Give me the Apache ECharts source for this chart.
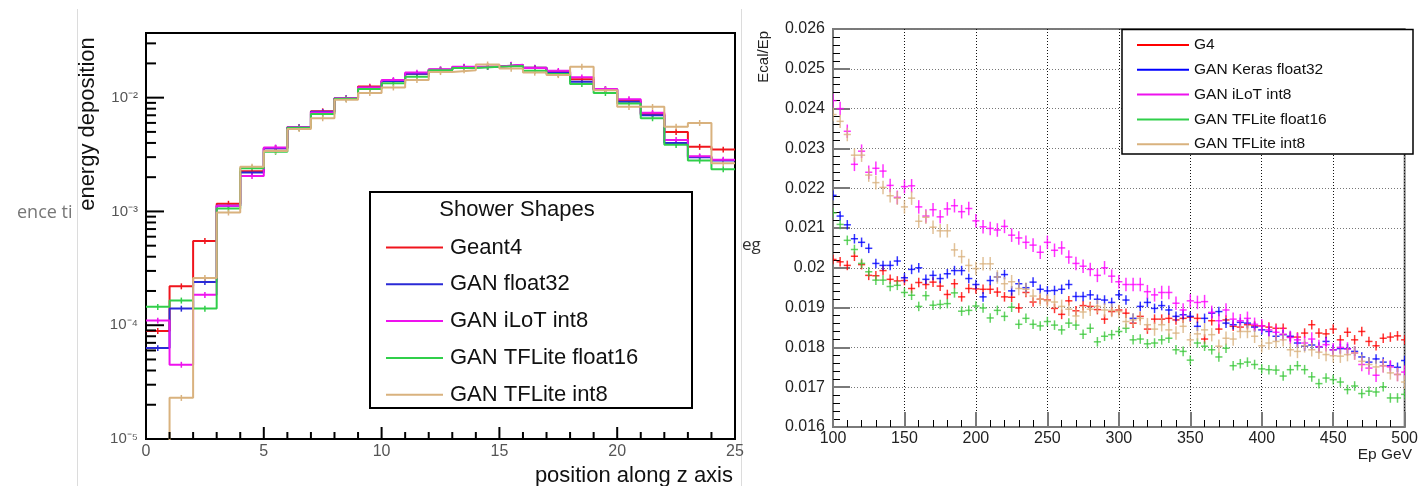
<!DOCTYPE html>
<html>
<head>
<meta charset="utf-8">
<script src="https://cdn.jsdelivr.net/npm/echarts@6/dist/echarts.min.js"></script>
<style>
  html, body { margin: 0; padding: 0; background: #fff; }
  #c { width: 1421px; height: 486px; }
</style>
</head>
<body>
<div id="c"></div>
<script>
// ---------- Shower shapes: energy deposition per z bin ----------
const zEdges = [0, 1, 2, 3, 4, 5, 6, 7, 8, 9, 10, 11, 12, 13, 14, 15, 16, 17, 18, 19, 20, 21, 22, 23, 24, 25];

const depGeant4 = [8.9e-5, 2.2e-4, 5.5e-4, 1.17e-3, 2.25e-3, 3.6e-3, 5.5e-3, 7.6e-3, 9.9e-3, 1.25e-2,
  1.40e-2, 1.62e-2, 1.76e-2, 1.85e-2, 1.88e-2, 1.93e-2, 1.83e-2, 1.68e-2, 1.45e-2, 1.18e-2,
  9.4e-3, 7.2e-3, 5.0e-3, 3.7e-3, 3.5e-3];
const depGanF32 = [6.3e-5, 1.4e-4, 2.4e-4, 1.12e-3, 2.2e-3, 3.6e-3, 5.5e-3, 7.5e-3, 9.9e-3, 1.22e-2,
  1.40e-2, 1.62e-2, 1.76e-2, 1.85e-2, 1.87e-2, 1.94e-2, 1.83e-2, 1.66e-2, 1.38e-2, 1.18e-2,
  9.2e-3, 7.0e-3, 4.0e-3, 3.0e-3, 2.8e-3];
const depGanILoT = [1.1e-4, 4.5e-5, 1.85e-4, 1.12e-3, 2.05e-3, 3.65e-3, 5.5e-3, 7.4e-3, 9.9e-3, 1.23e-2,
  1.43e-2, 1.66e-2, 1.78e-2, 1.87e-2, 1.88e-2, 1.95e-2, 1.82e-2, 1.72e-2, 1.51e-2, 1.19e-2,
  9.7e-3, 7.35e-3, 4.25e-3, 3.05e-3, 2.85e-3];
const depGanTF16 = [1.45e-4, 1.65e-4, 1.4e-4, 1.06e-3, 2.4e-3, 3.35e-3, 5.45e-3, 7.2e-3, 9.8e-3, 1.19e-2,
  1.34e-2, 1.53e-2, 1.74e-2, 1.82e-2, 1.87e-2, 1.90e-2, 1.72e-2, 1.61e-2, 1.32e-2, 1.10e-2,
  8.9e-3, 6.6e-3, 3.85e-3, 2.8e-3, 2.35e-3];
const depGanTF8 = [9e-6, 2.3e-5, 2.6e-4, 9.8e-4, 2.47e-3, 3.4e-3, 5.3e-3, 6.6e-3, 9.6e-3, 1.10e-2,
  1.23e-2, 1.43e-2, 1.68e-2, 1.74e-2, 1.96e-2, 1.80e-2, 1.66e-2, 1.58e-2, 1.87e-2, 1.16e-2,
  8.3e-3, 8.3e-3, 5.55e-3, 6.0e-3, 2.65e-3];

// ---------- Ecal/Ep versus primary energy ----------
const epGeV = [100, 105, 110, 115, 120, 125, 130, 135, 140, 145, 150, 155, 160, 165, 170, 175, 180, 185, 190, 195,
  200, 205, 210, 215, 220, 225, 230, 235, 240, 245, 250, 255, 260, 265, 270, 275, 280, 285, 290, 295,
  300, 305, 310, 315, 320, 325, 330, 335, 340, 345, 350, 355, 360, 365, 370, 375, 380, 385, 390, 395,
  400, 405, 410, 415, 420, 425, 430, 435, 440, 445, 450, 455, 460, 465, 470, 475, 480, 485, 490, 495, 500];

const ratioG4 = [
  0.02021, 0.02015, 0.02006, 0.02029, 0.02008, 0.01981, 0.01980, 0.01993, 0.01971, 0.01967,
  0.01968, 0.01948, 0.01963, 0.01958, 0.01964, 0.01954, 0.01933, 0.01960, 0.01927, 0.01948,
  0.01947, 0.01946, 0.01946, 0.01939, 0.01927, 0.01926, 0.01899, 0.01938, 0.01914, 0.01921,
  0.01919, 0.01898, 0.01883, 0.01917, 0.01892, 0.01905, 0.01903, 0.01895, 0.01871, 0.01890,
  0.01894, 0.01886, 0.01861, 0.01878, 0.01846, 0.01871, 0.01871, 0.01873, 0.01869, 0.01873,
  0.01876, 0.01873, 0.01821, 0.01867, 0.01846, 0.01869, 0.01853, 0.01851, 0.01857, 0.01854,
  0.01854, 0.01851, 0.01848, 0.01848, 0.01826, 0.01826, 0.01836, 0.01857, 0.01836, 0.01834,
  0.01846, 0.01819, 0.01838, 0.01819, 0.01840, 0.01815, 0.01804, 0.01823, 0.01826, 0.01829,
  0.01819];
const ratioKeras = [
  0.02182, 0.02130, 0.02108, 0.02073, 0.02064, 0.02049, 0.02011, 0.02006, 0.02006, 0.02017,
  0.01975, 0.01996, 0.02000, 0.01971, 0.01981, 0.01973, 0.01985, 0.01993, 0.01993, 0.01973,
  0.01958, 0.01927, 0.01968, 0.01977, 0.01983, 0.01942, 0.01960, 0.01950, 0.01964, 0.01946,
  0.01942, 0.01943, 0.01946, 0.01958, 0.01928, 0.01928, 0.01932, 0.01921, 0.01919, 0.01913,
  0.01932, 0.01919, 0.01873, 0.01903, 0.01913, 0.01898, 0.01905, 0.01894, 0.01878, 0.01882,
  0.01878, 0.01853, 0.01873, 0.01886, 0.01890, 0.01861, 0.01857, 0.01863, 0.01861, 0.01851,
  0.01844, 0.01840, 0.01828, 0.01832, 0.01828, 0.01811, 0.01803, 0.01806, 0.01801, 0.01815,
  0.01794, 0.01797, 0.01797, 0.01790, 0.01776, 0.01763, 0.01771, 0.01763, 0.01754, 0.01750,
  0.01767];
const ratioILoT = [
  0.02420, 0.02400, 0.02343, 0.02260, 0.02293, 0.02240, 0.02250, 0.02243, 0.02207, 0.02177,
  0.02204, 0.02206, 0.02153, 0.02130, 0.02146, 0.02128, 0.02148, 0.02156, 0.02141, 0.02149,
  0.02118, 0.02103, 0.02099, 0.02095, 0.02104, 0.02082, 0.02075, 0.02064, 0.02057, 0.02039,
  0.02064, 0.02044, 0.02050, 0.02027, 0.02011, 0.02004, 0.01996, 0.01981, 0.02000, 0.01979,
  0.01965, 0.01958, 0.01958, 0.01958, 0.01940, 0.01932, 0.01938, 0.01938, 0.01911, 0.01894,
  0.01917, 0.01913, 0.01915, 0.01888, 0.01867, 0.01894, 0.01871, 0.01867, 0.01873, 0.01858,
  0.01854, 0.01844, 0.01838, 0.01833, 0.01825, 0.01819, 0.01811, 0.01821, 0.01802, 0.01807,
  0.01794, 0.01800, 0.01796, 0.01786, 0.01757, 0.01748, 0.01730, 0.01754, 0.01751, 0.01732,
  0.01738];
const ratioTF16 = [
  0.02138, 0.02109, 0.02069, 0.02046, 0.02011, 0.01990, 0.01969, 0.01969, 0.01953, 0.01956,
  0.01938, 0.01931, 0.01903, 0.01930, 0.01906, 0.01908, 0.01910, 0.01937, 0.01891, 0.01893,
  0.01904, 0.01899, 0.01874, 0.01893, 0.01878, 0.01901, 0.01858, 0.01873, 0.01858, 0.01854,
  0.01865, 0.01856, 0.01844, 0.01861, 0.01856, 0.01833, 0.01848, 0.01814, 0.01828, 0.01832,
  0.01840, 0.01848, 0.01819, 0.01821, 0.01809, 0.01811, 0.01819, 0.01823, 0.01794, 0.01790,
  0.01768, 0.01811, 0.01803, 0.01794, 0.01776, 0.01798, 0.01754, 0.01759, 0.01763, 0.01757,
  0.01746, 0.01744, 0.01743, 0.01728, 0.01744, 0.01754, 0.01744, 0.01726, 0.01709, 0.01723,
  0.01719, 0.01713, 0.01694, 0.01703, 0.01684, 0.01690, 0.01688, 0.01701, 0.01673, 0.01673,
  0.01682];
const ratioTF8 = [
  0.02385, 0.02368, 0.02335, 0.02283, 0.02283, 0.02233, 0.02214, 0.02202, 0.02181, 0.02175,
  0.02153, 0.02175, 0.02117, 0.02127, 0.02102, 0.02093, 0.02093, 0.02045, 0.02028, 0.02006,
  0.01998, 0.02010, 0.02010, 0.01977, 0.01960, 0.01965, 0.01948, 0.01946, 0.01929, 0.01921,
  0.01917, 0.01914, 0.01903, 0.01896, 0.01879, 0.01889, 0.01896, 0.01903, 0.01894, 0.01893,
  0.01890, 0.01865, 0.01869, 0.01873, 0.01857, 0.01846, 0.01857, 0.01844, 0.01836, 0.01853,
  0.01819, 0.01834, 0.01844, 0.01832, 0.01803, 0.01823, 0.01821, 0.01840, 0.01840, 0.01828,
  0.01804, 0.01811, 0.01815, 0.01819, 0.01794, 0.01790, 0.01804, 0.01794, 0.01788, 0.01782,
  0.01779, 0.01778, 0.01782, 0.01786, 0.01765, 0.01757, 0.01751, 0.01754, 0.01736, 0.01732,
  0.01713];

// y-axis tick labels of the response plot
const ratioTicks = ['0.016', '0.017', '0.018', '0.019', '0.02', '0.021', '0.022', '0.023', '0.024', '0.025', '0.026'];
// decades and sub-decade multiples of the logarithmic deposition axis
const depDecades = [1e-5, 1e-4, 1e-3, 1e-2];
const depMultiples = [2, 3, 4, 5, 6, 7, 8, 9];
const DEP_MAX = 0.037;

// ---------- styling ----------
const FONT = '"Liberation Sans", Arial, Helvetica, sans-serif';

const showerSets = [
  { name: 'Geant4', values: depGeant4, color: '#f0141c' },
  { name: 'GAN float32', values: depGanF32, color: '#2a2ad6' },
  { name: 'GAN iLoT int8', values: depGanILoT, color: '#ee12ee' },
  { name: 'GAN TFLite float16', values: depGanTF16, color: '#30cf4a' },
  { name: 'GAN TFLite int8', values: depGanTF8, color: '#d9b27e' }
];
const ratioSets = [
  { name: 'G4', values: ratioG4, color: '#ff0000', err: 0.00012 },
  { name: 'GAN Keras float32', values: ratioKeras, color: '#0000ff', err: 0.00012 },
  { name: 'GAN iLoT int8', values: ratioILoT, color: '#ff00ff', err: 0.00017 },
  { name: 'GAN TFLite float16', values: ratioTF16, color: '#3cc83c', err: 0.00012 },
  { name: 'GAN TFLite int8', values: ratioTF8, color: '#d9b27e', err: 0.00017 }
];

const SUP = { '-': '\u207B', '0': '\u2070', '1': '\u00B9', '2': '\u00B2', '3': '\u00B3', '4': '\u2074',
  '5': '\u2075', '6': '\u2076', '7': '\u2077', '8': '\u2078', '9': '\u2079' };
function decadeLabel(v) {
  const p = Math.log10(v);
  const n = Math.round(p);
  if (Math.abs(p - n) > 1e-6) return '';
  return '10' + String(n).split('').map(c => SUP[c]).join('');
}

const series = [];

// step histograms
showerSets.forEach(s => {
  const pts = s.values.map((v, i) => [zEdges[i], v]);
  pts.push([zEdges[zEdges.length - 1], s.values[s.values.length - 1]]);
  series.push({
    type: 'line', name: s.name, xAxisIndex: 0, yAxisIndex: 0,
    step: 'end', symbol: 'none', showSymbol: false, clip: true,
    data: pts,
    lineStyle: { color: s.color, width: 2 },
    itemStyle: { color: s.color },
    emphasis: { disabled: true }, z: 2
  });
  // small statistical error marks at bin centres
  series.push({
    type: 'custom', name: s.name, xAxisIndex: 0, yAxisIndex: 0, clip: true,
    data: s.values.map((v, i) => [zEdges[i] + 0.5, v]),
    encode: { x: 0, y: 1 },
    itemStyle: { color: s.color },
    renderItem: (params, api) => {
      const x = api.value(0), v = api.value(1);
      const a = api.coord([x, v * 0.94]), b = api.coord([x, v * 1.06]);
      return { type: 'line', shape: { x1: a[0], y1: a[1], x2: b[0], y2: b[1] },
        style: { stroke: api.visual('color'), lineWidth: 1.5 } };
    },
    silent: true, z: 2
  });
});

// tick marks of the shower plot, positioned through its own axes
series.push({
  type: 'custom', name: 'depositionTicks', xAxisIndex: 0, yAxisIndex: 0, clip: true, silent: true,
  data: [[12.5, 1e-3]], encode: { x: 0, y: 1 },
  itemStyle: { color: '#000' },
  renderItem: (params, api) => {
    const kids = [];
    const seg = (p, dx, dy) => kids.push({ type: 'line',
      shape: { x1: p[0], y1: p[1], x2: p[0] + dx, y2: p[1] + dy },
      style: { stroke: '#000', lineWidth: 2 } });
    zEdges.forEach(z => seg(api.coord([z, depDecades[0]]), 0, z % 5 === 0 ? -12 : -7));
    depDecades.forEach(d => {
      seg(api.coord([zEdges[0], d]), 18, 0);
      depMultiples.forEach(m => { if (m * d < DEP_MAX) seg(api.coord([zEdges[0], m * d]), 10, 0); });
    });
    return { type: 'group', children: kids };
  },
  z: 10
});

// error crosses of the response plot
ratioSets.forEach(s => {
  series.push({
    type: 'custom', name: s.name, xAxisIndex: 1, yAxisIndex: 1, clip: true,
    data: epGeV.map((e, i) => [e, s.values[i]]),
    encode: { x: 0, y: 1 },
    itemStyle: { color: s.color },
    renderItem: (params, api) => {
      const e = api.value(0), v = api.value(1);
      const l = api.coord([e - 2.5, v]), r = api.coord([e + 2.5, v]);
      const t = api.coord([e, v + s.err]), b = api.coord([e, v - s.err]);
      const st = { stroke: api.visual('color'), lineWidth: 1.5, opacity: 0.8 };
      return { type: 'group', children: [
        { type: 'line', shape: { x1: l[0], y1: l[1], x2: r[0], y2: r[1] }, style: st },
        { type: 'line', shape: { x1: t[0], y1: t[1], x2: b[0], y2: b[1] }, style: st }
      ] };
    },
    z: 2
  });
});

const baseGraphic = [
  // page separators
  { type: 'line', z: 0, shape: { x1: 77.5, y1: 9, x2: 77.5, y2: 486 }, style: { stroke: '#dcdcdc', lineWidth: 1 } },
  { type: 'line', z: 0, shape: { x1: 741.5, y1: 9, x2: 741.5, y2: 486 }, style: { stroke: '#dcdcdc', lineWidth: 1 } },
  { type: 'text', z: 0, x: 17, y: 213, style: { text: 'ence ti', fill: '#777', font: '18px "Open Sans", sans-serif',
    verticalAlign: 'middle', textVerticalAlign: 'middle' } },
  { type: 'text', z: 0, x: 742, y: 245, style: { text: 'eg', fill: '#333', font: '17px "Open Sans", sans-serif',
    verticalAlign: 'middle', textVerticalAlign: 'middle' } },
  // shower plot titles and legend box
  { type: 'text', z: 5, x: 88, y: 124, rotation: Math.PI / 2,
    style: { text: 'energy deposition', fill: '#111', font: '22px ' + FONT,
      align: 'center', textAlign: 'center', verticalAlign: 'middle', textVerticalAlign: 'middle' } },
  { type: 'text', z: 5, x: 733, y: 476,
    style: { text: 'position along z axis', fill: '#111', font: '22px ' + FONT,
      align: 'right', textAlign: 'right', verticalAlign: 'middle', textVerticalAlign: 'middle' } },
  { type: 'rect', z: 4, shape: { x: 370, y: 192, width: 322, height: 216 },
    style: { fill: '#fff', stroke: '#000', lineWidth: 2 } },
  { type: 'text', z: 5, x: 517, y: 210,
    style: { text: 'Shower Shapes', fill: '#111', font: '22px ' + FONT,
      align: 'center', textAlign: 'center', verticalAlign: 'middle', textVerticalAlign: 'middle' } },
  // response plot titles and legend box
  { type: 'text', z: 5, x: 764, y: 31, rotation: Math.PI / 2,
    style: { text: 'Ecal/Ep', fill: '#222', font: '15px ' + FONT,
      align: 'right', textAlign: 'right', verticalAlign: 'middle', textVerticalAlign: 'middle' } },
  { type: 'text', z: 5, x: 1412, y: 455,
    style: { text: 'Ep GeV', fill: '#222', font: '15.5px ' + FONT,
      align: 'right', textAlign: 'right', verticalAlign: 'middle', textVerticalAlign: 'middle' } },
  { type: 'rect', z: 4, shape: { x: 1122, y: 29.5, width: 291, height: 124.5 },
    style: { fill: '#fff', stroke: '#000', lineWidth: 1.5 } }
];

const option = {
  animation: false,
  backgroundColor: '#fff',
  textStyle: { fontFamily: FONT },
  grid: [
    { left: 146, top: 33, width: 589, height: 406, show: true, borderColor: '#000', borderWidth: 2 },
    { left: 833, top: 29, width: 580, height: 398, show: true, borderColor: '#7a7a7a', borderWidth: 2 }
  ],
  xAxis: [
    {
      gridIndex: 0, type: 'value', min: 0, max: 25, interval: 5,
      axisLine: { show: true, onZero: false, lineStyle: { color: '#000', width: 2 } },
      axisTick: { show: false },
      axisLabel: { color: '#555', fontSize: 16, margin: 5, fontFamily: FONT },
      splitLine: { show: false }
    },
    {
      gridIndex: 1, type: 'value', min: 100, max: 500, interval: 50,
      axisLine: { show: true, onZero: false, lineStyle: { color: '#7a7a7a', width: 2 } },
      axisTick: { show: true, inside: true, length: 15, lineStyle: { color: '#7a7a7a', width: 2 } },
      minorTick: { show: true, splitNumber: 5, length: 7, lineStyle: { color: '#000', width: 1 } },
      axisLabel: { color: '#222', fontSize: 16, margin: 4, fontFamily: FONT },
      splitLine: { show: true, lineStyle: { color: '#111', width: 1, type: [1, 2] } }
    }
  ],
  yAxis: [
    {
      gridIndex: 0, type: 'log', logBase: 10, min: 1e-5, max: DEP_MAX,
      axisLine: { show: true, onZero: false, lineStyle: { color: '#000', width: 2 } },
      axisTick: { show: false },
      axisLabel: { color: '#555', fontSize: 15, margin: 8, fontFamily: FONT, formatter: decadeLabel },
      splitLine: { show: false }
    },
    {
      gridIndex: 1, type: 'value', min: 0.016, max: 0.026, interval: 0.001,
      axisLine: { show: true, onZero: false, lineStyle: { color: '#7a7a7a', width: 2 } },
      axisTick: { show: true, inside: true, length: 17, lineStyle: { color: '#7a7a7a', width: 2 } },
      minorTick: { show: true, splitNumber: 5, length: 7, lineStyle: { color: '#000', width: 1 } },
      axisLabel: {
        color: '#222', fontSize: 16, margin: 8, fontFamily: FONT,
        formatter: v => ratioTicks[Math.round((v - 0.016) / 0.001)] || ''
      },
      splitLine: { show: true, lineStyle: { color: '#777', width: 1, type: [1, 2] } }
    }
  ],
  legend: [
    {
      data: showerSets.map(s => s.name),
      orient: 'vertical', left: 381, top: 230.5,
      icon: 'rect', itemWidth: 57, itemHeight: 2, itemGap: 12.8,
      selectedMode: false, z: 6,
      textStyle: { fontSize: 22, lineHeight: 24, color: '#111', fontFamily: FONT, padding: [0, 0, 0, 2] }
    },
    {
      data: ratioSets.map(s => s.name),
      orient: 'vertical', left: 1132, top: 31,
      icon: 'rect', itemWidth: 52, itemHeight: 2, itemGap: 6.8,
      selectedMode: false, z: 6,
      textStyle: { fontSize: 15.5, lineHeight: 18, color: '#111', fontFamily: FONT, padding: [0, 0, 0, 0] }
    }
  ],
  graphic: baseGraphic,
  series: series
};

const chart = echarts.init(document.getElementById('c'));
chart.setOption(option);
</script>
</body>
</html>
